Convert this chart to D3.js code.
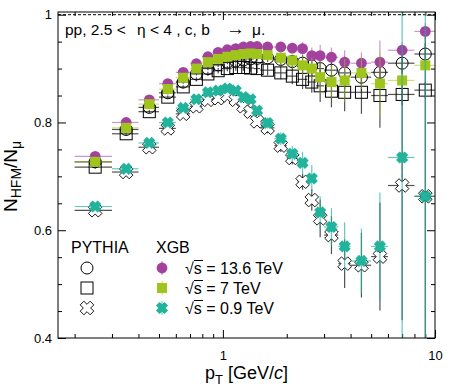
<!DOCTYPE html>
<html>
<head>
<meta charset="utf-8">
<script src="https://cdn.jsdelivr.net/npm/d3@7"></script>
<style>
body { margin: 0; background: #fff; }
text { font-family: "Liberation Sans", Arial, Helvetica, sans-serif; }
</style>
</head>
<body>
<script>
const svgWidth = 449;
const svgHeight = 389;

// pT bins [GeV/c]
const ptEdges = [0.2, 0.3, 0.4, 0.5, 0.6, 0.7, 0.8, 0.9, 1.0, 1.1, 1.2, 1.3, 1.4, 1.5,
  1.75, 2.0, 2.25, 2.5, 2.75, 3.0, 3.5, 4.0, 5.0, 6.0, 8.0, 10.0];

// XGB
const xgb136 = [0.737, 0.800, 0.842, 0.872, 0.893, 0.909, 0.922, 0.930, 0.935, 0.937, 0.940, 0.941, 0.941,
  0.940, 0.940, 0.938, 0.937, 0.924, 0.924, 0.921, 0.912, 0.910, 0.912, 0.934, 0.969];
const xgb136Err = [0.004, 0.004, 0.003, 0.003, 0.003, 0.003, 0.003, 0.003, 0.004, 0.004, 0.004, 0.005, 0.006,
  0.006, 0.008, 0.010, 0.012, 0.015, 0.020, 0.018, 0.022, 0.020, 0.040, 0.015, 0.015];
const xgb7 = [0.727, 0.790, 0.834, 0.862, 0.883, 0.900, 0.912, 0.918, 0.922, 0.925, 0.927, 0.928, 0.927,
  0.925, 0.920, 0.915, 0.906, 0.900, 0.884, 0.875, 0.878, 0.892, 0.872, 0.878, 0.906];
const xgb7Err = [0.004, 0.004, 0.003, 0.003, 0.003, 0.004, 0.004, 0.004, 0.005, 0.005, 0.006, 0.007, 0.008,
  0.010, 0.012, 0.015, 0.018, 0.020, 0.030, 0.030, 0.040, 0.030, 0.060, 0.015, 0.015];
const xgb09 = [0.644, 0.714, 0.762, 0.800, 0.827, 0.843, 0.856, 0.859, 0.863, 0.859, 0.847, 0.843, 0.822,
  0.799, 0.770, 0.742, 0.725, 0.696, 0.633, 0.606, 0.570, 0.543, 0.570, 0.735, 0.663];
const xgb09Err = [0.004, 0.004, 0.004, 0.004, 0.004, 0.004, 0.005, 0.005, 0.005, 0.006, 0.007, 0.008, 0.008,
  0.010, 0.012, 0.015, 0.020, 0.025, 0.030, 0.035, 0.045, 0.060, 0.100, 0.400, 0.600];

// PYTHIA
const py136 = [0.727, 0.787, 0.828, 0.855, 0.875, 0.890, 0.900, 0.907, 0.912, 0.914, 0.916, 0.918, 0.919,
  0.920, 0.917, 0.913, 0.910, 0.905, 0.900, 0.897, 0.892, 0.884, 0.893, 0.910, 0.927];
const py136Err = [0.003, 0.003, 0.003, 0.003, 0.003, 0.003, 0.003, 0.004, 0.004, 0.004, 0.005, 0.005, 0.006,
  0.008, 0.010, 0.012, 0.015, 0.020, 0.020, 0.025, 0.030, 0.030, 0.020, 0.020, 0.020];
const py7 = [0.717, 0.779, 0.820, 0.847, 0.866, 0.880, 0.890, 0.896, 0.900, 0.902, 0.902, 0.901, 0.900,
  0.897, 0.892, 0.886, 0.880, 0.875, 0.868, 0.858, 0.856, 0.856, 0.850, 0.852, 0.860];
const py7Err = [0.003, 0.003, 0.003, 0.003, 0.003, 0.004, 0.004, 0.005, 0.005, 0.006, 0.006, 0.007, 0.008,
  0.010, 0.012, 0.015, 0.018, 0.020, 0.030, 0.030, 0.035, 0.040, 0.060, 0.020, 0.015];
const py09 = [0.637, 0.708, 0.754, 0.789, 0.816, 0.830, 0.842, 0.845, 0.850, 0.842, 0.830, 0.820, 0.802,
  0.790, 0.757, 0.734, 0.690, 0.656, 0.622, 0.591, 0.538, 0.535, 0.551, 0.683, 0.663];
const py09Err = [0.004, 0.004, 0.004, 0.004, 0.004, 0.004, 0.005, 0.005, 0.005, 0.006, 0.007, 0.008, 0.008,
  0.010, 0.012, 0.012, 0.015, 0.020, 0.035, 0.035, 0.045, 0.060, 0.100, 0.250, 0.300];

const xMajor = [1, 10];
const xMinor = [0.2, 0.3, 0.4, 0.5, 0.6, 0.7, 0.8, 0.9, 2, 3, 4, 5, 6, 7, 8, 9];
const yMajor = [0.4, 0.6, 0.8, 1.0];
const yMinor = [0.45, 0.5, 0.55, 0.65, 0.7, 0.75, 0.85, 0.9, 0.95];

const purple = "#a3419f";
const green = "#9fc41c";
const teal = "#21b39b";

const pLeft = 58, pRight = 435, pTop = 12, pBottom = 338;

const x = d3.scaleLog().domain([0.167, 10]).range([pLeft, pRight]);
const y = d3.scaleLinear().domain([0.4, 1.005]).range([pBottom, pTop]);

const svg = d3.select("body").append("svg")
  .attr("width", svgWidth)
  .attr("height", svgHeight);

svg.append("rect").attr("width", svgWidth).attr("height", svgHeight).attr("fill", "#fff");

svg.append("clipPath").attr("id", "plot")
  .append("rect")
  .attr("x", pLeft).attr("y", pTop)
  .attr("width", pRight - pLeft).attr("height", pBottom - pTop);

// axes
function styleAxis(g) {
  g.select(".domain").remove();
  g.selectAll("line").attr("stroke", "#000");
  g.selectAll("text").attr("font-size", 13).attr("fill", "#000")
    .attr("font-family", "'Liberation Sans', Arial, sans-serif");
}

const fmtY = d => d === 1 ? "1" : d3.format(".1f")(d);

svg.append("g").attr("transform", `translate(0,${pBottom})`)
  .call(d3.axisBottom(x).tickValues(xMajor).tickSize(-8).tickPadding(13).tickFormat(d3.format("d")))
  .call(styleAxis);
svg.append("g").attr("transform", `translate(0,${pBottom})`)
  .call(d3.axisBottom(x).tickValues(xMinor).tickSize(-4).tickFormat(""))
  .call(styleAxis);
svg.append("g").attr("transform", `translate(0,${pTop})`)
  .call(d3.axisTop(x).tickValues(xMajor).tickSize(-8).tickFormat(""))
  .call(styleAxis);
svg.append("g").attr("transform", `translate(0,${pTop})`)
  .call(d3.axisTop(x).tickValues(xMinor).tickSize(-4).tickFormat(""))
  .call(styleAxis);

svg.append("g").attr("transform", `translate(${pLeft},0)`)
  .call(d3.axisLeft(y).tickValues(yMajor).tickSize(-8).tickPadding(6).tickFormat(fmtY))
  .call(styleAxis);
svg.append("g").attr("transform", `translate(${pLeft},0)`)
  .call(d3.axisLeft(y).tickValues(yMinor).tickSize(-4).tickFormat(""))
  .call(styleAxis);
svg.append("g").attr("transform", `translate(${pRight},0)`)
  .call(d3.axisRight(y).tickValues(yMajor).tickSize(-8).tickFormat(""))
  .call(styleAxis);
svg.append("g").attr("transform", `translate(${pRight},0)`)
  .call(d3.axisRight(y).tickValues(yMinor).tickSize(-4).tickFormat(""))
  .call(styleAxis);

// dashed line at unity
svg.append("line")
  .attr("x1", pLeft).attr("x2", pRight)
  .attr("y1", y(1)).attr("y2", y(1))
  .attr("stroke", "#000").attr("stroke-width", 1)
  .attr("stroke-dasharray", "3,2");

// markers
function crossPath(a, b) {
  const pts = [[-b, -a], [b, -a], [b, -b], [a, -b], [a, b], [b, b], [b, a], [-b, a], [-b, b], [-a, b], [-a, -b], [-b, -b]];
  const c = Math.SQRT1_2;
  return "M" + pts.map(p => [(p[0] - p[1]) * c, (p[0] + p[1]) * c].map(v => v.toFixed(2)).join(",")).join("L") + "Z";
}

function marker(g, type, cx, cy, color) {
  if (type === "oc") {
    g.append("circle").attr("cx", cx).attr("cy", cy).attr("r", 6)
      .attr("fill", "none").attr("stroke", "#000").attr("stroke-width", 1);
  } else if (type === "os") {
    g.append("rect").attr("x", cx - 6).attr("y", cy - 6).attr("width", 12).attr("height", 12)
      .attr("fill", "none").attr("stroke", "#000").attr("stroke-width", 1);
  } else if (type === "ox") {
    g.append("path").attr("d", crossPath(7, 2.6)).attr("transform", `translate(${cx},${cy})`)
      .attr("fill", "#fff").attr("stroke", "#000").attr("stroke-width", 0.9);
  } else if (type === "fc") {
    g.append("circle").attr("cx", cx).attr("cy", cy).attr("r", 5.4).attr("fill", color);
  } else if (type === "fs") {
    g.append("rect").attr("x", cx - 5).attr("y", cy - 5).attr("width", 10).attr("height", 10).attr("fill", color);
  } else if (type === "fx") {
    g.append("path").attr("d", crossPath(6, 2.6)).attr("transform", `translate(${cx},${cy})`).attr("fill", color);
  }
}

const plot = svg.append("g").attr("clip-path", "url(#plot)");

const series = [
  { vals: py7, errs: py7Err, type: "os", bar: "#333", op: 0.85 },
  { vals: py136, errs: py136Err, type: "oc", bar: "#333", op: 0.85 },
  { vals: py09, errs: py09Err, type: "ox", bar: "#333", op: 0.85 },
  { vals: xgb136, errs: xgb136Err, type: "fc", bar: purple, op: 0.55 },
  { vals: xgb7, errs: xgb7Err, type: "fs", bar: green, op: 0.55 },
  { vals: xgb09, errs: xgb09Err, type: "fx", bar: teal, op: 0.7 }
];

series.forEach(s => {
  const g = plot.append("g");
  s.vals.forEach((v, i) => {
    const lo = ptEdges[i], hi = ptEdges[i + 1];
    const c = (lo + hi) / 2;
    g.append("line")
      .attr("x1", x(lo)).attr("x2", x(hi)).attr("y1", y(v)).attr("y2", y(v))
      .attr("stroke", s.bar).attr("stroke-opacity", s.op).attr("stroke-width", 1.2);
    g.append("line")
      .attr("x1", x(c)).attr("x2", x(c)).attr("y1", y(v - s.errs[i])).attr("y2", y(v + s.errs[i]))
      .attr("stroke", s.bar).attr("stroke-opacity", s.op).attr("stroke-width", 1.2);
  });
  s.vals.forEach((v, i) => {
    const c = (ptEdges[i] + ptEdges[i + 1]) / 2;
    marker(g, s.type, x(c), y(v), s.bar);
  });
});

// frame
svg.append("rect")
  .attr("x", pLeft).attr("y", pTop).attr("width", pRight - pLeft).attr("height", pBottom - pTop)
  .attr("fill", "none").attr("stroke", "#000").attr("stroke-width", 1);

// header text
const hdr = svg.append("g").attr("font-size", 15.5).attr("fill", "#000");
hdr.append("text").attr("x", 65).attr("y", 35).text("pp, 2.5 <");
hdr.append("text").attr("x", 137).attr("y", 35).text("η < 4 , c, b");
hdr.append("text").attr("x", 226).attr("y", 35).attr("font-size", 19).text("→");
hdr.append("text").attr("x", 252).attr("y", 35).text("μ.");

// legend
const leg = svg.append("g").attr("font-size", 16).attr("fill", "#000");
leg.append("text").attr("x", 71).attr("y", 253).text("PYTHIA");
leg.append("text").attr("x", 156).attr("y", 253).text("XGB");

const legRows = [
  { py: "oc", xgb: "fc", color: purple, label: "13.6 TeV", yy: 268 },
  { py: "os", xgb: "fs", color: green, label: "7 TeV", yy: 288 },
  { py: "ox", xgb: "fx", color: teal, label: "0.9 TeV", yy: 308 }
];
legRows.forEach(r => {
  marker(leg, r.py, 87, r.yy);
  leg.append("line").attr("x1", 162).attr("x2", 162).attr("y1", r.yy - 7).attr("y2", r.yy + 7)
    .attr("stroke", r.color).attr("stroke-opacity", 0.6).attr("stroke-width", 1.2);
  marker(leg, r.xgb, 162, r.yy, r.color);
  const t = leg.append("text").attr("x", 185).attr("y", r.yy + 6);
  t.append("tspan").text("√");
  t.append("tspan").text("s");
  t.append("tspan").text(" = " + r.label);
  leg.append("line").attr("x1", 194).attr("x2", 203).attr("y1", r.yy - 7.5).attr("y2", r.yy - 7.5)
    .attr("stroke", "#000").attr("stroke-width", 1);
});

// axis titles
const xt = svg.append("text").attr("x", 205).attr("y", 379).attr("font-size", 18).attr("fill", "#000");
xt.append("tspan").text("p");
xt.append("tspan").attr("font-size", 13).attr("dy", 5).text("T");
xt.append("tspan").attr("dy", -5).text(" [GeV/");
xt.append("tspan").attr("font-style", "italic").text("c");
xt.append("tspan").text("]");

const yt = svg.append("text")
  .attr("transform", "translate(17,212) rotate(-90)")
  .attr("font-size", 19).attr("fill", "#000");
yt.append("tspan").text("N");
yt.append("tspan").attr("font-size", 14).attr("dy", 4).text("HFM");
yt.append("tspan").attr("dy", -4).text("/N");
yt.append("tspan").attr("font-size", 14).attr("dy", 4).text("μ");
</script>
</body>
</html>
